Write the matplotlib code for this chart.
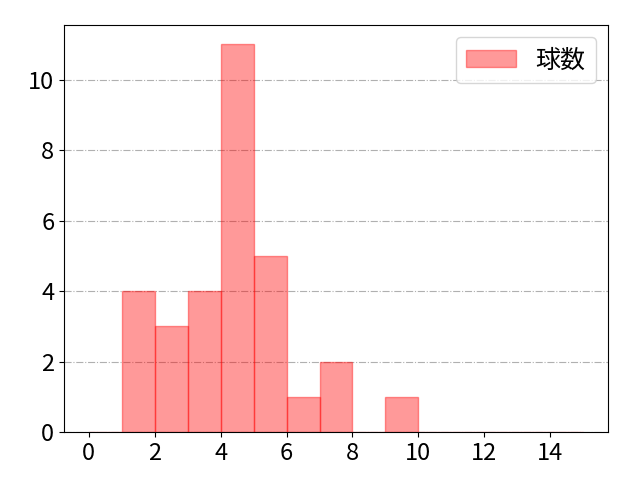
import matplotlib
matplotlib.use("Agg")
import matplotlib.pyplot as plt
import numpy as np

plt.rcParams['font.family'] = ['Noto Sans CJK JP', 'DejaVu Sans']

bin_edges = list(range(0, 15))
counts = [0, 4, 3, 4, 11, 5, 1, 2, 0, 1, 0, 0, 0, 0, 0]
label = "球数"

fig, ax = plt.subplots(figsize=(6.4, 4.8), dpi=100)
ax.bar(bin_edges, counts, width=1, align='edge', color='red', alpha=0.4,
       edgecolor='red', linewidth=1, label=label)
ax.grid(axis='y', color='#b0b0b0', linestyle='-.', linewidth=0.8)
ax.set_axisbelow(True)
ax.set_xticks(range(0, 16, 2))
ax.tick_params(labelsize=17)
ax.legend(fontsize=18, loc='upper right')
fig.subplots_adjust(left=0.1, right=0.95, top=0.948, bottom=0.1)
fig.savefig("out.png")
